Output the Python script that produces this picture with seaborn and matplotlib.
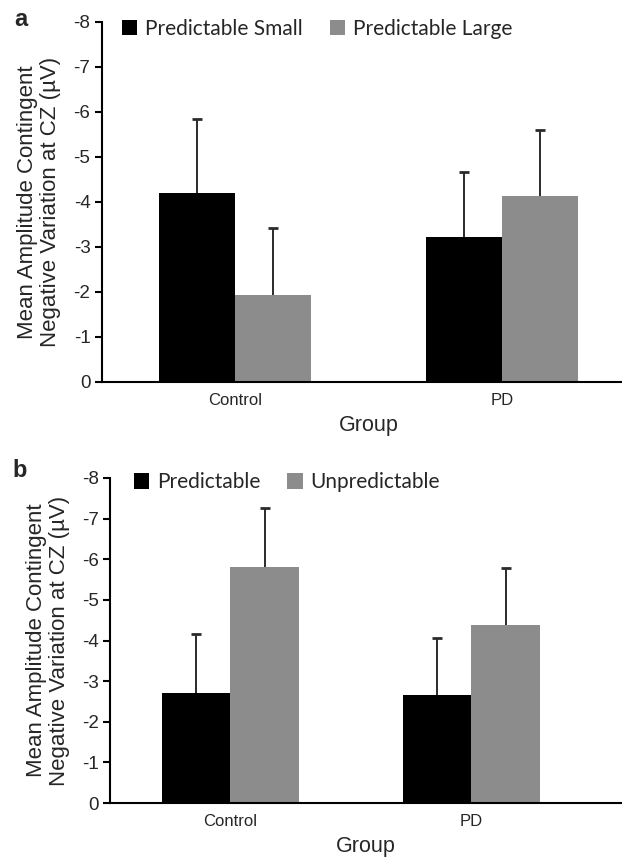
import numpy as np
import pandas as pd
import matplotlib
matplotlib.use('Agg')
import matplotlib.pyplot as plt
import seaborn as sns

# ------------------------------------------------------------
# data (CNV mean amplitude, µV, and SD)
# ------------------------------------------------------------
groups = ['Control', 'PD']

a_levels = ['Predictable Small', 'Predictable Large']
a_means = [[-4.19, -1.94],    # Control
           [-3.22, -4.12]]    # PD
a_err = [[1.65, 1.48],
         [1.44, 1.48]]

b_levels = ['Predictable', 'Unpredictable']
b_means = [[-2.70, -5.82],
           [-2.67, -4.38]]
b_err = [[1.47, 1.43],
         [1.39, 1.40]]

y_ticks = [0, -1, -2, -3, -4, -5, -6, -7, -8]
bar_colors = ['#000000', '#8c8c8c']

sns.set_theme(style='white')
plt.rcParams['font.family'] = ['Liberation Sans', 'DejaVu Sans']

fig = plt.figure(figsize=(6.22, 8.59), dpi=100)

# panel a runs a little past the right edge, as in the original
ax_a = fig.add_axes([101.5 / 622, 1 - 382 / 859, 534 / 622, (382 - 21.7) / 859])
ax_b = fig.add_axes([110 / 622, 1 - 803 / 859, 512 / 622, (803 - 478) / 859])


def draw_panel(ax, levels, means, errs, xlim, leg_anchor):
    rows = []
    for gi, g in enumerate(groups):
        for li, lev in enumerate(levels):
            rows.append({'group': g, 'cond': lev,
                         'value': means[gi][li], 'sd': errs[gi][li]})
    df = pd.DataFrame(rows)

    sns.barplot(data=df, x='group', y='value', hue='cond', hue_order=levels,
                palette=bar_colors, width=0.57, errorbar=None, saturation=1,
                edgecolor='none', linewidth=0, ax=ax)

    # one-sided error bars, pointing away from zero
    for li, cont in enumerate(ax.containers):
        for gi, patch in enumerate(cont.patches):
            xc = patch.get_x() + patch.get_width() / 2
            y0 = means[gi][li]
            y1 = y0 - errs[gi][li]
            ax.vlines(xc, y0, y1, color='#2b2b2b', linewidth=1.4, zorder=3)
            ax.plot([xc], [y1], marker='_', markersize=7, markeredgewidth=2.0,
                    color='#2b2b2b', zorder=3)

    ax.set_ylim(0, -8)
    ax.set_yticks(y_ticks)
    ax.set_yticklabels([str(t) for t in y_ticks], fontsize=13.5)
    ax.set_xlim(*xlim)
    ax.tick_params(axis='y', which='major', direction='out', length=5,
                   width=1.5, color='black', pad=3, left=True)
    ax.tick_params(axis='x', length=0, pad=8)
    for lab in ax.get_xticklabels():
        lab.set_fontsize(12)

    for side in ['top', 'right']:
        ax.spines[side].set_visible(False)
    for side in ['left', 'bottom']:
        ax.spines[side].set_color('black')
        ax.spines[side].set_linewidth(1.5)

    ax.set_xlabel('Group', fontsize=15.5, labelpad=5)
    ax.set_ylabel('Mean Amplitude Contingent\nNegative Variation at CZ (µV)',
                  fontsize=16, labelpad=9, linespacing=1.1)

    ax.legend(loc='upper left', bbox_to_anchor=leg_anchor, ncol=2,
              frameon=False, handlelength=0.75, handleheight=0.75,
              handletextpad=0.35, columnspacing=1.3,
              prop={'family': 'Lato', 'size': 15})


draw_panel(ax_a, a_levels, a_means, a_err, (-0.5, 1.5), (0.003, 1.06))
draw_panel(ax_b, b_levels, b_means, b_err, (-0.5, 1.625), (0.01, 1.075))

# panel letters
fig.text(21 / 622, 1 - 20 / 859, 'a', fontsize=17, fontweight='bold',
         ha='center', va='center')
fig.text(20 / 622, 1 - 470 / 859, 'b', fontsize=17, fontweight='bold',
         ha='center', va='center')

fig.savefig('out.png', dpi=100)
